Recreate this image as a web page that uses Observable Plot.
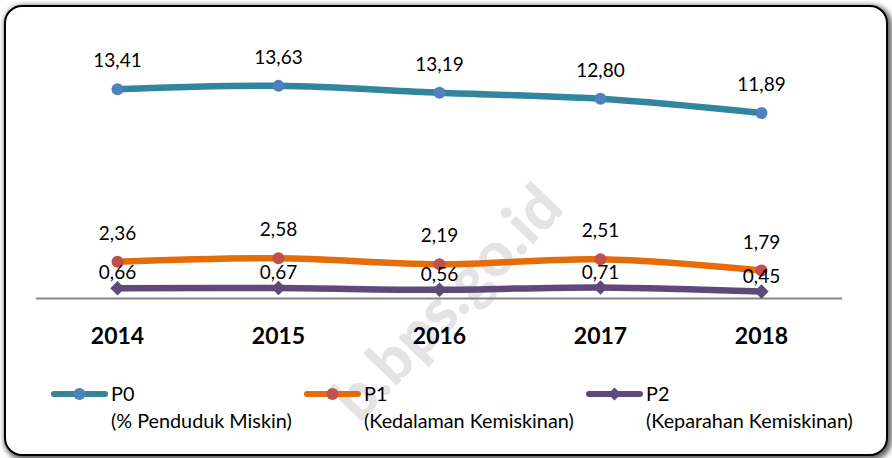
<!DOCTYPE html>
<html>
<head>
<meta charset="utf-8">
<script src="https://cdn.jsdelivr.net/npm/d3@7"></script>
<script src="https://cdn.jsdelivr.net/npm/@observablehq/plot@0.6"></script>
<style>
  html, body { margin: 0; padding: 0; background: #fff; }
  #wrap { position: relative; width: 892px; height: 458px; overflow: hidden; font-family: Lato, "Open Sans", sans-serif; }
  #frame { position: absolute; left: 4px; top: 5px; width: 884px; height: 451px; box-sizing: border-box;
           border: 2px solid #000; border-radius: 18px; background: #fff;
           box-shadow: 2px 2px 5px 2px rgba(0,0,0,0.6); }
  #wm { position: absolute; left: 0; top: 0; }
  #chart { position: absolute; left: 0; top: 0; }
  #legend { position: absolute; left: 0; top: 0; width: 892px; height: 458px; }
  .item { position: absolute; }
  .item svg { position: absolute; left: 0; top: 0; overflow: visible; }
  .item .name { position: absolute; font-size: 19.8px; color: #000; white-space: nowrap; line-height: 1; }
  #chart svg [aria-label="x-axis tick label"] text { font-weight: bold; }
</style>
</head>
<body>
<div id="wrap">
  <div id="frame"></div>
  <svg id="wm" width="892" height="458">
    <text x="566" y="210" transform="rotate(-46 566 210)" text-anchor="end"
          font-family="Lato, sans-serif" font-weight="900" font-size="62" fill="#e4e4e4">b.bps.go.id</text>
  </svg>
  <div id="chart"></div>
  <div id="legend"></div>
</div>
<script>
const years = ["2014", "2015", "2016", "2017", "2018"];
const p0 = [13.41, 13.63, 13.19, 12.80, 11.89];
const p1 = [2.36, 2.58, 2.19, 2.51, 1.79];
const p2 = [0.66, 0.67, 0.56, 0.71, 0.45];
const seriesNames = ["P0", "P1", "P2"];
const seriesDesc = ["(% Penduduk Miskin)", "(Kedalaman Kemiskinan)", "(Keparahan Kemiskinan)"];

const lineColors = ["#31859C", "#E46C0A", "#5F497A"];
const markerColors = ["#4F81BD", "#C0504D", "#5F497A"];
const symbols = ["circle", "circle", "diamond2"];
const labelDy = [-28, -28, -15];

const seriesValues = [p0, p1, p2];
const fmt = v => d3.format(".2f")(v).replace(".", ",");

const marks = [
  Plot.ruleY([0], {stroke: "#868686", strokeWidth: 2}),
  Plot.axisX({tickSize: 0, tickPadding: 29, fontSize: 23, fontWeight: "bold", fill: "#000", label: null})
];

seriesValues.forEach((vals, i) => {
  const data = years.map((y, j) => ({year: y, value: vals[j]}));
  marks.push(Plot.line(data, {x: "year", y: "value", stroke: lineColors[i], strokeWidth: 6.5, curve: "catmull-rom", strokeLinejoin: "round"}));
  marks.push(Plot.dot(data, {x: "year", y: "value", symbol: symbols[i], r: i === 2 ? 6.5 : 6, fill: markerColors[i], stroke: "none"}));
  marks.push(Plot.text(data, {x: "year", y: "value", text: d => fmt(d.value), dy: labelDy[i], fontSize: 19, fill: "#000"}));
});

const chart = Plot.plot({
  width: 892,
  height: 360,
  marginLeft: 36,
  marginRight: 50,
  marginTop: 48.4,
  marginBottom: 62,
  style: {background: "transparent", fontFamily: "Lato, 'Open Sans', sans-serif"},
  x: {type: "point", domain: years, padding: 0.5, label: null},
  y: {domain: [0, 16], axis: null},
  marks
});
document.getElementById("chart").appendChild(chart);

// Legend
const legendX = [51, 304, 586];
const legend = document.getElementById("legend");
seriesNames.forEach((name, i) => {
  const item = document.createElement("div");
  item.className = "item";
  item.style.left = legendX[i] + "px";
  item.style.top = "394px";
  const sym = symbols[i] === "circle"
    ? `<circle cx="28.5" cy="0" r="6" fill="${markerColors[i]}"/>`
    : `<path d="M28.5,-6.5 L35,0 L28.5,6.5 L22,0 Z" fill="${markerColors[i]}"/>`;
  item.innerHTML = `<svg width="60" height="1"><line x1="3" y1="0" x2="54" y2="0" stroke="${lineColors[i]}" stroke-width="6" stroke-linecap="round"/>${sym}</svg>` +
    `<span class="name" style="left:60px; top:-10px">${name}</span>` +
    `<span class="name" style="left:60px; top:17px">${seriesDesc[i]}</span>`;
  legend.appendChild(item);
});
</script>
</body>
</html>
